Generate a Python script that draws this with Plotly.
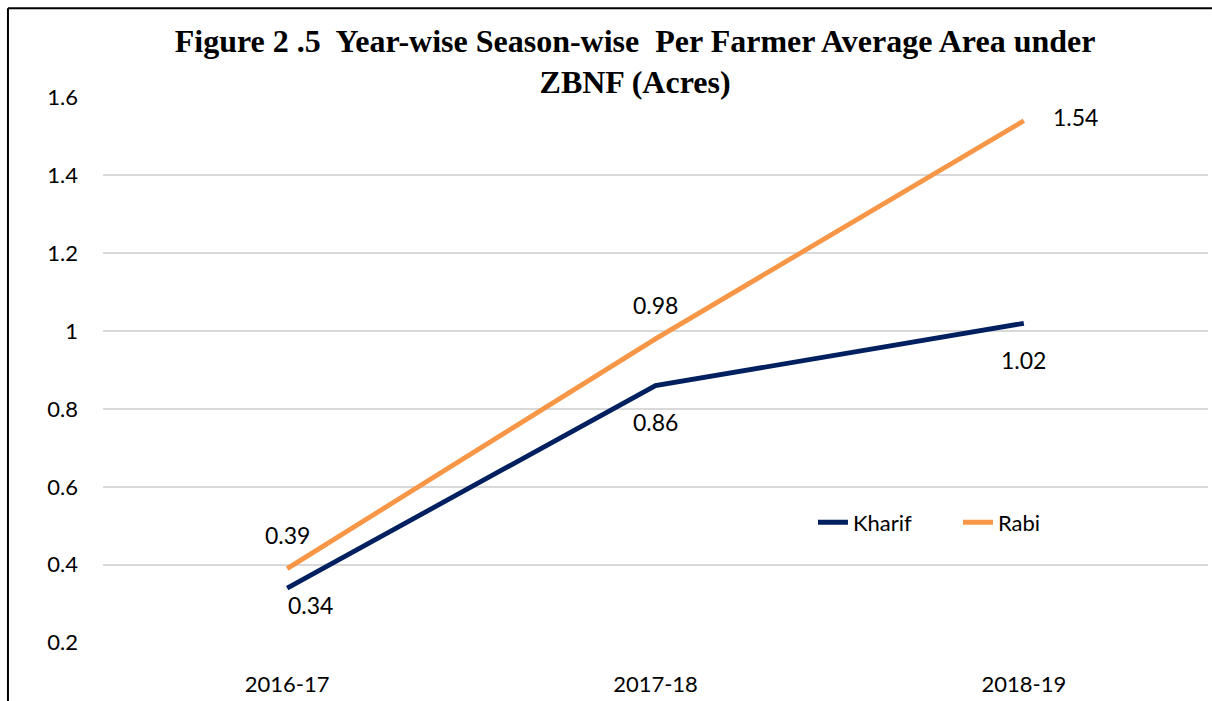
import plotly.graph_objects as go

# Data
years = ['2016-17', '2017-18', '2018-19']
kharif = [0.34, 0.86, 1.02]
rabi = [0.39, 0.98, 1.54]

title_text = ('<b>Figure 2 .5  Year-wise Season-wise  Per Farmer Average Area under'
              '<br>ZBNF (Acres)</b>')

kharif_color = '#002060'
rabi_color = '#F79646'
label_font = dict(family='Lato', size=23, color='#000000')

fig = go.Figure()

fig.add_trace(go.Scatter(x=years, y=kharif, name='Kharif', mode='lines',
                         line=dict(color=kharif_color, width=4.8)))
fig.add_trace(go.Scatter(x=years, y=rabi, name='Rabi', mode='lines',
                         line=dict(color=rabi_color, width=4.8)))

# Data labels, offsets copied from the reference layout
kharif_shift = [(23, -17), (0, -36), (0, -37)]
rabi_shift = [(0, 34), (0, 34), (52, 4)]
for vals, shifts in [(kharif, kharif_shift), (rabi, rabi_shift)]:
    for yr, v, (dx, dy) in zip(years, vals, shifts):
        fig.add_annotation(x=yr, y=v, text=str(v), showarrow=False,
                           xshift=dx, yshift=dy, font=label_font)

# Outer frame lines (left and top)
fig.add_shape(type='line', xref='paper', yref='paper',
              x0=-0.086, x1=-0.086, y0=1.1624, y1=-0.2,
              line=dict(color='black', width=2))
fig.add_shape(type='line', xref='paper', yref='paper',
              x0=-0.086, x1=1.0036, y0=1.1624, y1=1.1624,
              line=dict(color='black', width=2))

fig.update_layout(
    width=1212, height=701,
    margin=dict(l=103, r=4, t=97, b=56),
    paper_bgcolor='white', plot_bgcolor='white',
    font=dict(family='Lato', size=22, color='#000000'),
    title=dict(text=title_text, x=0.524, xanchor='center', xref='container',
               y=0.926, yanchor='top',
               font=dict(family='Liberation Serif', size=32, color='#000000')),
    showlegend=True,
    legend=dict(orientation='h', x=0.6425, xanchor='left', y=0.2208, yanchor='middle',
                entrywidth=100, entrywidthmode='pixels',
                bgcolor='rgba(0,0,0,0)', font=dict(family='Lato', size=22)),
    xaxis=dict(type='category', range=[-0.5, 2.5], showgrid=False,
               showline=False, zeroline=False, ticks='',
               ticklabelstandoff=26),
    yaxis=dict(range=[0.199, 1.601], tick0=0.2, dtick=0.2,
               showgrid=True, gridcolor='#d9d9d9', gridwidth=1.5,
               zeroline=False, showline=False, ticks='',
               ticklabelstandoff=24),
)

# Drop the default page margin so the chart sits at the window origin
fig.write_html("out.html", config={'displayModeBar': False},
               post_script="document.body.style.margin='0';")
